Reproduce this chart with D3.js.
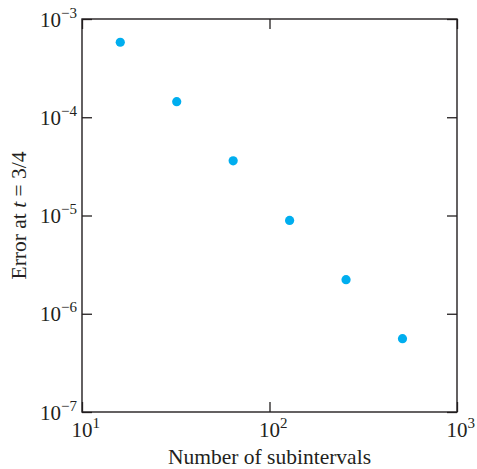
<!DOCTYPE html>
<html>
<head>
<meta charset="utf-8">
<script src="https://cdn.jsdelivr.net/npm/d3@7"></script>
<style>
  html, body { margin: 0; padding: 0; background: #fff; }
  svg { display: block; }
  text { font-family: "Liberation Serif", "Times New Roman", serif; fill: #231f20; }
</style>
</head>
<body>
<svg id="chart" width="477" height="469"></svg>
<script>
const subintervals = [16, 32, 64, 128, 256, 512];
const errors = [5.8e-4, 1.44e-4, 3.6e-5, 8.9e-6, 2.22e-6, 5.57e-7];
const xTickExponents = [1, 2, 3];
const yTickExponents = [-3, -4, -5, -6, -7];
const xTitle = "Number of subintervals";

const svg = d3.select("#chart");
const L = 82, R = 457, T = 19, B = 412;

const x = d3.scaleLog().domain([10, 1000]).range([L, R]);
const y = d3.scaleLog().domain([1e-7, 1e-3]).range([B, T]);

const xTicks = xTickExponents.map(e => Math.pow(10, e));
const yTicks = yTickExponents.map(e => Math.pow(10, e));
const tickLen = 10;
const strokeCol = "#231f20";
const labelSize = 21, supSize = 15;

function styleAxis(g) {
  g.select(".domain").remove();
  g.selectAll(".tick line").attr("stroke", strokeCol).attr("stroke-width", 1.3);
  g.selectAll(".tick text").remove();
}

svg.append("g").attr("transform", `translate(0,${B})`)
  .call(d3.axisBottom(x).tickValues(xTicks).tickSize(-tickLen).tickFormat(""))
  .call(styleAxis);
svg.append("g").attr("transform", `translate(0,${T})`)
  .call(d3.axisTop(x).tickValues(xTicks).tickSize(-tickLen).tickFormat(""))
  .call(styleAxis);
svg.append("g").attr("transform", `translate(${L},0)`)
  .call(d3.axisLeft(y).tickValues(yTicks).tickSize(-tickLen).tickFormat(""))
  .call(styleAxis);
svg.append("g").attr("transform", `translate(${R},0)`)
  .call(d3.axisRight(y).tickValues(yTicks).tickSize(-tickLen).tickFormat(""))
  .call(styleAxis);

// frame
svg.append("rect")
  .attr("x", L).attr("y", T).attr("width", R - L).attr("height", B - T)
  .attr("fill", "none").attr("stroke", strokeCol).attr("stroke-width", 1.4);

// x tick labels
const xl = svg.append("g").selectAll("text").data(xTickExponents).join("text")
  .attr("x", d => x(Math.pow(10, d)) - labelSize / 2)
  .attr("y", B + 25)
  .attr("font-size", labelSize);
xl.append("tspan").text("10");
xl.append("tspan").attr("dy", -9).attr("font-size", supSize).text(d => String(d).replace("-", "\u2212"));

// y tick labels
const yl = svg.append("g").selectAll("text").data(yTickExponents).join("text")
  .attr("x", L - 5)
  .attr("y", d => y(Math.pow(10, d)) + 7.5)
  .attr("text-anchor", "end")
  .attr("font-size", labelSize);
yl.append("tspan").text("10");
yl.append("tspan").attr("dy", -9).attr("font-size", supSize).text(d => String(d).replace("-", "\u2212"));

// points
svg.append("g").selectAll("circle").data(subintervals).join("circle")
  .attr("cx", d => x(d))
  .attr("cy", (d, i) => y(errors[i]))
  .attr("r", 4.6)
  .attr("fill", "#00aeef");

// axis titles
svg.append("text")
  .attr("x", (L + R) / 2).attr("y", 463.5)
  .attr("text-anchor", "middle").attr("font-size", 21.5)
  .text(xTitle);

const yt = svg.append("text")
  .attr("transform", `translate(26,${(T + B) / 2}) rotate(-90)`)
  .attr("text-anchor", "middle").attr("font-size", 21.5);
yt.append("tspan").text("Error at ");
yt.append("tspan").attr("font-style", "italic").text("t");
yt.append("tspan").text(" = 3/4");
</script>
</body>
</html>
